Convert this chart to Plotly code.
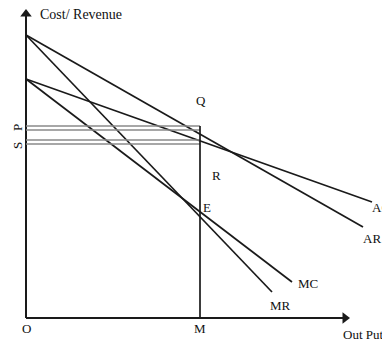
import plotly.graph_objects as go

# Courbes (coordonnées dans le repère du schéma, origine O)
curve_names = ["AR", "MR", "AC", "MC"]
curve_x = [[0, 337], [0, 246], [0, 346], [0, 266]]
curve_y = [[283, 91], [283, 26], [239, 116], [239, 36]]

# Niveaux et quantité
m_output = 174
p_level = 190
s_level = 176

axis_x_end = 319
axis_y_end = 304

line_color = "#1a1a1a"
font = dict(family="Liberation Serif", size=13, color="#111111")

fig = go.Figure()

# Axes
fig.add_trace(go.Scatter(x=[0, 0], y=[0, axis_y_end], mode="lines",
                         line=dict(color=line_color, width=2), showlegend=False))
fig.add_trace(go.Scatter(x=[0, axis_x_end], y=[0, 0], mode="lines",
                         line=dict(color=line_color, width=2), showlegend=False))
fig.add_trace(go.Scatter(x=[0], y=[axis_y_end], mode="markers",
                         marker=dict(symbol="triangle-up", size=10, color=line_color),
                         showlegend=False))
fig.add_trace(go.Scatter(x=[axis_x_end], y=[0], mode="markers",
                         marker=dict(symbol="triangle-right", size=10, color=line_color),
                         showlegend=False))

# Courbes AR, MR, AC, MC
for name, xs, ys in zip(curve_names, curve_x, curve_y):
    fig.add_trace(go.Scatter(x=xs, y=ys, mode="lines", name=name,
                             line=dict(color=line_color, width=1.7), showlegend=False))

# Lignes doubles P et S
for level in [p_level, s_level]:
    for off in [-2, 2]:
        fig.add_trace(go.Scatter(x=[0, m_output], y=[level + off, level + off], mode="lines",
                                 line=dict(color="#8a8a8a", width=1.6), showlegend=False))

# Verticale en M
fig.add_trace(go.Scatter(x=[m_output, m_output], y=[0, p_level + 2], mode="lines",
                         line=dict(color=line_color, width=1.7), showlegend=False))

# Étiquettes
labels = [
    ("Cost/ Revenue", 12, 304, "left", 0, 14),
    ("Out Put", 315, -16, "left", 0, 13),
    ("O", 0, -10, "center", 0, 13),
    ("M", m_output, -10, "center", 0, 13),
    ("Q", m_output + 1, 218, "center", 0, 13),
    ("R", 190, 143, "center", 0, 13),
    ("E", 181, 111, "center", 0, 13),
    ("MC", 270, 35, "left", 0, 13),
    ("MR", 242, 13, "left", 0, 13),
    ("AC", 344, 111, "left", 0, 13),
    ("AR", 335, 80, "left", 0, 13),
    ("P", -9, p_level, "center", -90, 13),
    ("S", -9, s_level - 4, "center", -90, 13),
]
for text, x, y, anchor, angle, size in labels:
    fig.add_annotation(x=x, y=y, text=text, showarrow=False, xanchor=anchor,
                       yanchor="middle", textangle=angle, font=dict(font, size=size))

# Le corps de la page décale la figure de 8 px : on compense dans les plages d'axes
fig.update_layout(
    width=390,
    height=342,
    margin=dict(l=0, r=0, t=0, b=0),
    plot_bgcolor="white",
    paper_bgcolor="white",
    xaxis=dict(range=[-18, 372], visible=False, fixedrange=True),
    yaxis=dict(range=[-32, 310], visible=False, fixedrange=True),
    showlegend=False,
)

fig.write_html("out.html")
